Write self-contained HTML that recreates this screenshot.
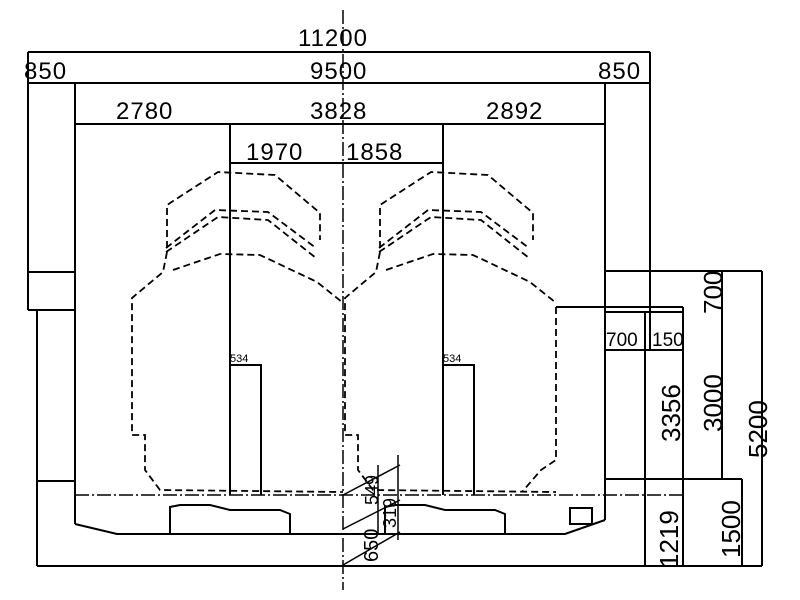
<!DOCTYPE html>
<html><head><meta charset="utf-8"><style>
html,body{margin:0;padding:0;background:#fff;width:800px;height:600px;overflow:hidden}
svg text{font-family:"Liberation Sans","Noto Sans CJK JP",sans-serif;fill:#000}
</style></head><body>
<svg width="800" height="600" viewBox="0 0 800 600" xmlns="http://www.w3.org/2000/svg">
<g stroke="#000" stroke-width="2" fill="none">
<line x1="28" y1="52" x2="650" y2="52"/>
<line x1="28" y1="83" x2="650" y2="83"/>
<line x1="75" y1="124" x2="605" y2="124"/>
<line x1="230" y1="163" x2="443" y2="163"/>
<line x1="28" y1="52" x2="28" y2="310"/>
<line x1="28" y1="272" x2="75" y2="272"/>
<line x1="28" y1="310" x2="75" y2="310"/>
<line x1="37" y1="310" x2="37" y2="566"/>
<line x1="75" y1="83" x2="75" y2="524"/>
<line x1="37" y1="481" x2="75" y2="481"/>
<polyline points="75,524 117,534 565,534 605,520"/>
<line x1="37" y1="566" x2="762" y2="566"/>
<line x1="605" y1="83" x2="605" y2="520"/>
<line x1="650" y1="52" x2="650" y2="350"/>
<line x1="605" y1="271" x2="762" y2="271"/>
<line x1="762" y1="271" x2="762" y2="566"/>
<line x1="556" y1="307" x2="683" y2="307"/>
<line x1="605" y1="312" x2="683" y2="312"/>
<line x1="605" y1="350" x2="683" y2="350"/>
<line x1="645" y1="312" x2="645" y2="566"/>
<line x1="683" y1="307" x2="683" y2="566"/>
<line x1="722" y1="271" x2="722" y2="478"/>
<line x1="605" y1="479" x2="742" y2="479"/>
<line x1="742" y1="479" x2="742" y2="566"/>
<line x1="230" y1="124" x2="230" y2="495"/>
<line x1="443" y1="124" x2="443" y2="495"/>
<polyline points="230,365 261,365 261,495"/>
<polyline points="443,365 474,365 474,495"/>
<polyline points="170,534 170,507 180,505 210,505 230,510 280,510 290,514 290,534"/>
<polyline points="385,534 385,507 395,505 425,505 445,510 495,510 505,514 505,534"/>
<rect x="570" y="508" width="22" height="16"/>
<line x1="343" y1="495" x2="400" y2="465" stroke-width="1.5"/>
<line x1="343" y1="529" x2="400" y2="500" stroke-width="1.5"/>
<line x1="343" y1="565" x2="400" y2="532" stroke-width="1.5"/>
<line x1="378" y1="465" x2="378" y2="535" stroke-width="1.5"/>
<line x1="398" y1="455" x2="398" y2="540" stroke-width="1.5"/>
</g>
<line x1="343" y1="10" x2="343" y2="590" stroke="#000" stroke-width="1.5" stroke-dasharray="14,3,2,3"/>
<line x1="75" y1="495" x2="683" y2="495" stroke="#000" stroke-width="1.5" stroke-dasharray="14,3,2,3"/>
<g stroke="#000" stroke-width="1.8" fill="none" stroke-dasharray="7,4">
<g id="v">
<polyline points="167,248 167,205 218,172 275,175 320,213 320,240"/>
<polyline points="166,248 215,210 268,212 316,248"/>
<polyline points="166,252 218,217 268,220 316,258"/>
<polyline points="173,270 220,254 260,255 317,282 342,302"/>
<polyline points="167,252 163,272 132,298 132,435 145,435 145,470 160,490 343,492"/>
</g>
<use href="#v" transform="translate(213,0)"/>
<polyline points="556,307 556,460 541,470 522,492"/>
</g>
<g font-size="24" letter-spacing="1">
<text x="298" y="46">11200</text>
<text x="24" y="79">850</text>
<text x="310" y="79">9500</text>
<text x="598" y="79">850</text>
<text x="116" y="119">2780</text>
<text x="310" y="119">3828</text>
<text x="486" y="119">2892</text>
<text x="246" y="160">1970</text>
<text x="346" y="160">1858</text>
<text x="606" y="346" font-size="19" letter-spacing="0">700</text>
<text x="652" y="346" font-size="19" letter-spacing="0">150</text>
</g>
<g font-size="11"><text x="230" y="362">534</text><text x="443" y="362">534</text></g>
<g font-size="26">
<text transform="translate(680,442) rotate(-90)">3356</text>
<text transform="translate(722,432) rotate(-90)">3000</text>
<text transform="translate(767,458) rotate(-90)">5200</text>
<text transform="translate(722,314) rotate(-90)">700</text>
<text transform="translate(678,568) rotate(-90)">1219</text>
<text transform="translate(740,558) rotate(-90)">1500</text>
<text transform="translate(378,562) rotate(-90)" font-size="20">650</text>
<text transform="translate(378,505) rotate(-90)" font-size="18">549</text>
<text transform="translate(396,528) rotate(-90)" font-size="18">319</text>
</g>
</svg>
</body></html>
